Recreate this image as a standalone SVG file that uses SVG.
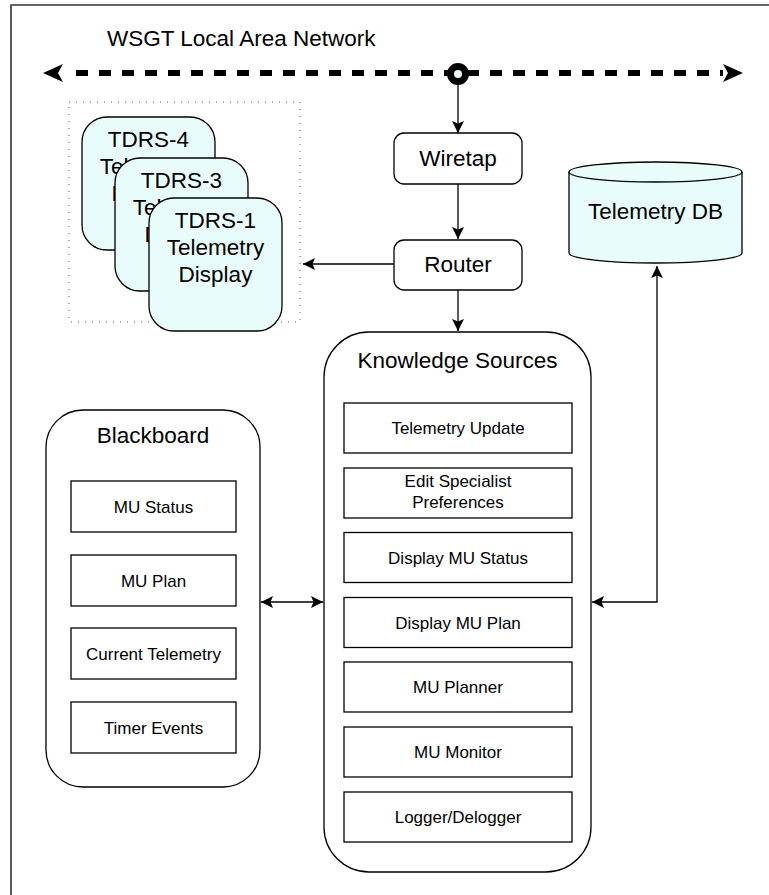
<svg xmlns="http://www.w3.org/2000/svg" width="769" height="895" viewBox="0 0 769 895">
<defs>
<style>
text{font-family:"Liberation Sans",Arial,sans-serif;fill:#000}
.h{font-size:22.5px}
.s{font-size:17px}
.box{fill:#fff;stroke:#000;stroke-width:1.3}
.cy{fill:#e8fcfc;stroke:#000;stroke-width:1.3}
.ln{fill:none;stroke:#000;stroke-width:1.3}
</style>
<marker id="ah" viewBox="0 0 12 12" refX="12" refY="6" markerWidth="12" markerHeight="12" markerUnits="userSpaceOnUse" orient="auto-start-reverse">
<path d="M0,0 L12,6 L0,12 L2.5,6 Z" fill="#000"/>
</marker>
</defs>
<rect x="0" y="0" width="769" height="895" fill="#fff"/>
<path d="M11,895 V5 H769" fill="none" stroke="#333" stroke-width="1.6"/>
<text class="h" x="107" y="46">WSGT Local Area Network</text>

<g id="connectors">
<line x1="76" y1="73" x2="723" y2="73" stroke="#000" stroke-width="6" stroke-dasharray="12 11"/>
<polygon points="43,73 63,64 58,73 63,82" fill="#000"/>
<polygon points="743,73 723,64 728,73 723,82" fill="#000"/>
<line class="ln" x1="458" y1="85" x2="458" y2="133" marker-end="url(#ah)"/>
<line class="ln" x1="458" y1="184" x2="458" y2="239" marker-end="url(#ah)"/>
<line class="ln" x1="458" y1="290" x2="458" y2="331" marker-end="url(#ah)"/>
<line class="ln" x1="394" y1="264" x2="303" y2="264" marker-end="url(#ah)"/>
<line class="ln" x1="261" y1="602" x2="323" y2="602" marker-start="url(#ah)" marker-end="url(#ah)"/>
<path class="ln" d="M657,266 V602 H592" marker-start="url(#ah)" marker-end="url(#ah)"/>
</g>

<g id="lan-tap">
<circle cx="458" cy="74" r="11" fill="#000"/>
<circle cx="458" cy="74" r="4" fill="#e8fcfc"/>
</g>

<g id="displays">
<rect x="69" y="102" width="231" height="220" fill="none" stroke="#555" stroke-width="1" stroke-dasharray="1 6"/>
<g id="tdrs4">
<rect class="cy" x="82" y="117" width="133" height="133" rx="25"/>
<text class="h" x="148.5" y="147" text-anchor="middle">TDRS-4</text>
<text class="h" x="148.5" y="174" text-anchor="middle">Telemetry</text>
<text class="h" x="148.5" y="201" text-anchor="middle">Display</text>
</g>
<g id="tdrs3">
<rect class="cy" x="115" y="158" width="133" height="133" rx="25"/>
<text class="h" x="181.5" y="188" text-anchor="middle">TDRS-3</text>
<text class="h" x="181.5" y="215" text-anchor="middle">Telemetry</text>
<text class="h" x="181.5" y="242" text-anchor="middle">Display</text>
</g>
<g id="tdrs1">
<rect class="cy" x="149" y="198" width="133" height="133" rx="25"/>
<text class="h" x="215.5" y="228" text-anchor="middle">TDRS-1</text>
<text class="h" x="215.5" y="255" text-anchor="middle">Telemetry</text>
<text class="h" x="215.5" y="282" text-anchor="middle">Display</text>
</g>
</g>

<g id="wiretap">
<rect class="box" x="394" y="133" width="128" height="51" rx="10"/>
<text class="h" x="458" y="166" text-anchor="middle">Wiretap</text>
</g>
<g id="router">
<rect class="box" x="394" y="240" width="128" height="50" rx="10"/>
<text class="h" x="458" y="272" text-anchor="middle">Router</text>
</g>

<g id="telemetry-db">
<path class="cy" d="M569,172 V253 A86.5,10 0 0 0 742,253 V172 A86.5,10 0 0 0 569,172 Z"/>
<path class="ln" d="M569,172 A86.5,10 0 0 0 742,172"/>
<text class="h" x="655.5" y="219" text-anchor="middle">Telemetry DB</text>
</g>

<g id="knowledge-sources">
<rect class="box" x="324" y="332" width="267" height="540" rx="45"/>
<text class="h" x="457.5" y="368" text-anchor="middle">Knowledge Sources</text>
<rect class="box" x="344" y="403" width="228" height="50"/>
<text class="s" x="458" y="434" text-anchor="middle">Telemetry Update</text>
<rect class="box" x="344" y="468" width="228" height="50"/>
<text class="s" x="458" y="487" text-anchor="middle">Edit Specialist</text>
<text class="s" x="458" y="508" text-anchor="middle">Preferences</text>
<rect class="box" x="344" y="532.5" width="228" height="50"/>
<text class="s" x="458" y="563.5" text-anchor="middle">Display MU Status</text>
<rect class="box" x="344" y="597.5" width="228" height="50"/>
<text class="s" x="458" y="628.5" text-anchor="middle">Display MU Plan</text>
<rect class="box" x="344" y="662" width="228" height="50"/>
<text class="s" x="458" y="693" text-anchor="middle">MU Planner</text>
<rect class="box" x="344" y="727" width="228" height="50"/>
<text class="s" x="458" y="758" text-anchor="middle">MU Monitor</text>
<rect class="box" x="344" y="792" width="228" height="50"/>
<text class="s" x="458" y="823" text-anchor="middle">Logger/Delogger</text>
</g>

<g id="blackboard">
<rect class="box" x="46" y="410" width="214" height="377" rx="37"/>
<text class="h" x="153" y="443" text-anchor="middle">Blackboard</text>
<rect class="box" x="71" y="481" width="165" height="51"/>
<text class="s" x="153.5" y="512.5" text-anchor="middle">MU Status</text>
<rect class="box" x="71" y="555" width="165" height="51"/>
<text class="s" x="153.5" y="586.5" text-anchor="middle">MU Plan</text>
<rect class="box" x="71" y="628" width="165" height="51"/>
<text class="s" x="153.5" y="659.5" text-anchor="middle">Current Telemetry</text>
<rect class="box" x="71" y="702" width="165" height="51"/>
<text class="s" x="153.5" y="733.5" text-anchor="middle">Timer Events</text>
</g>
</svg>
